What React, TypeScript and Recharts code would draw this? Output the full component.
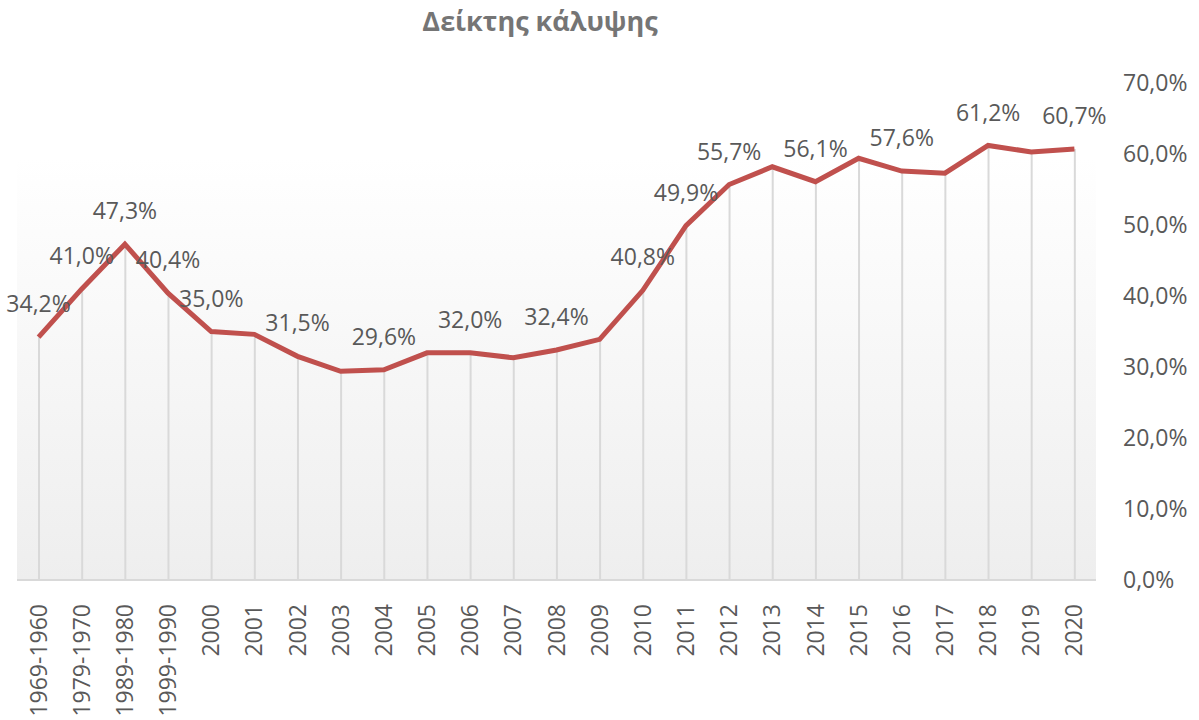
import React from 'react';
import { ComposedChart, Line, Bar, XAxis, YAxis, CartesianGrid, LabelList } from 'recharts';

const categories = [
  '1969-1960', '1979-1970', '1989-1980', '1999-1990', '2000', '2001', '2002', '2003', '2004',
  '2005', '2006', '2007', '2008', '2009', '2010', '2011', '2012', '2013', '2014', '2015',
  '2016', '2017', '2018', '2019', '2020',
];
const coverage = [
  34.2, 41.0, 47.3, 40.4, 35.0, 34.6, 31.5, 29.4, 29.6, 32.0, 32.0, 31.3, 32.4, 33.9, 40.8,
  49.9, 55.7, 58.2, 56.1, 59.4, 57.6, 57.3, 61.2, 60.3, 60.7,
];
const labelled = [1, 1, 1, 1, 1, 0, 1, 0, 1, 0, 1, 0, 1, 0, 1, 1, 1, 0, 1, 0, 1, 0, 1, 0, 1];
const yTicks = [0, 10, 20, 30, 40, 50, 60, 70];

const data = categories.map((c, i) => ({ category: c, value: coverage[i], show: labelled[i] === 1 }));

const FONT = '"Open Sans", sans-serif';
const TEXT = '#595959';
const FS = 23;
const fmt = (v: number) => v.toFixed(1).replace('.', ',') + '%';

const XTick = (props: any) => {
  const { x, y, payload } = props;
  return (
    <g transform={`translate(${x},${y})`}>
      <text
        transform="rotate(-90)"
        textAnchor="end"
        dy="0.35em"
        fill={TEXT}
        fontFamily={FONT}
        fontSize={FS}
      >
        {payload.value}
      </text>
    </g>
  );
};

const YTick = (props: any) => {
  const { x, y, payload } = props;
  return (
    <text x={x} y={y} dy="0.35em" textAnchor="start" fill={TEXT} fontFamily={FONT} fontSize={FS}>
      {fmt(payload.value)}
    </text>
  );
};

const PointLabel = (props: any) => {
  const { x, y, value, index } = props;
  if (!data[index] || !data[index].show) return null;
  return (
    <text x={x} y={y - 33} dy="0.35em" textAnchor="middle" fill={TEXT} fontFamily={FONT} fontSize={FS}>
      {fmt(value)}
    </text>
  );
};

export default function App() {
  return (
    <div style={{ position: 'absolute', left: 0, top: 0, width: 1199, height: 720, background: '#fff' }}>
      <div
        style={{
          position: 'absolute',
          left: 0,
          top: 3,
          width: 1080,
          textAlign: 'center',
          fontFamily: FONT,
          fontWeight: 700,
          fontSize: 27,
          color: '#757575',
          lineHeight: '36px',
        }}
      >
        Δείκτης κάλυψης
      </div>
      <ComposedChart
        width={1199}
        height={720}
        data={data}
        margin={{ top: 83, right: 0, bottom: 0, left: 17 }}
        barCategoryGap={0}
      >
        <defs>
          <linearGradient id="bgGrad" x1="0" y1="0" x2="0" y2="1">
            <stop offset="0%" stopColor="#ffffff" />
            <stop offset="15%" stopColor="#ffffff" />
            <stop offset="100%" stopColor="#eeeeee" />
          </linearGradient>
        </defs>
        <CartesianGrid horizontal={false} vertical={false} fill="url(#bgGrad)" />
        <XAxis
          dataKey="category"
          interval={0}
          height={140}
          tickLine={false}
          axisLine={{ stroke: '#d9d9d9', strokeWidth: 2 }}
          tick={<XTick />}
          tickMargin={18}
        />
        <YAxis
          orientation="right"
          domain={[0, 70]}
          ticks={yTicks}
          width={103}
          axisLine={false}
          tickLine={false}
          tick={<YTick />}
          tickMargin={21}
        />
        <Bar dataKey="value" barSize={2} fill="#d9d9d9" isAnimationActive={false} />
        <Line
          dataKey="value"
          stroke="#c0504d"
          strokeWidth={5}
          dot={false}
          activeDot={false}
          isAnimationActive={false}
        >
          <LabelList dataKey="value" content={<PointLabel />} />
        </Line>
      </ComposedChart>
    </div>
  );
}
